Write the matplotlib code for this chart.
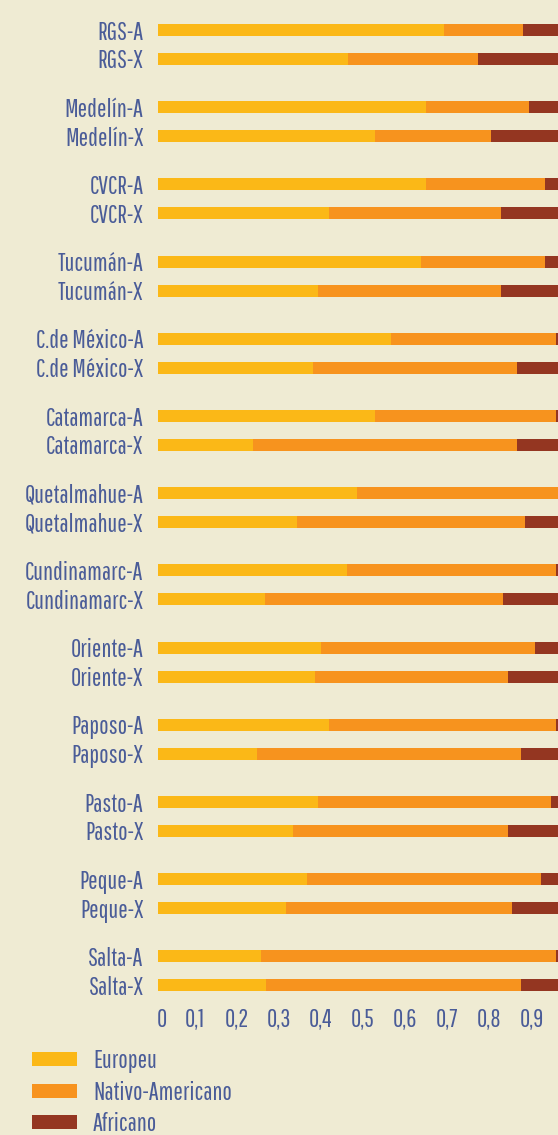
import matplotlib
matplotlib.use('Agg')
import matplotlib.pyplot as plt
import matplotlib.transforms as mtransforms
import numpy as np

# populations, each with an A and X row
populations = ['RGS', 'Medelín', 'CVCR', 'Tucumán', 'C.de México', 'Catamarca',
               'Quetalmahue', 'Cundinamarc', 'Oriente', 'Paposo', 'Pasto', 'Peque', 'Salta']

europeu_A = [0.681, 0.638, 0.638, 0.626, 0.555, 0.516, 0.474, 0.451, 0.389, 0.408, 0.381, 0.354, 0.245]
nativo_A = [0.187, 0.245, 0.282, 0.294, 0.391, 0.430, 0.496, 0.495, 0.508, 0.538, 0.553, 0.557, 0.701]
africano_A = [0.132, 0.117, 0.080, 0.080, 0.054, 0.054, 0.030, 0.054, 0.103, 0.054, 0.066, 0.089, 0.054]

europeu_X = [0.452, 0.516, 0.408, 0.381, 0.370, 0.228, 0.331, 0.255, 0.373, 0.237, 0.321, 0.306, 0.257]
nativo_X = [0.310, 0.275, 0.409, 0.436, 0.485, 0.627, 0.542, 0.566, 0.460, 0.627, 0.512, 0.537, 0.607]
africano_X = [0.238, 0.209, 0.183, 0.183, 0.145, 0.145, 0.127, 0.179, 0.167, 0.136, 0.167, 0.157, 0.136]

series_names = ['Europeu', 'Nativo-Americano', 'Africano']
colors = ['#fbb817', '#f7931e', '#943621']
bg = '#efebd3'
txt = '#4a5c98'
font = ['Pathway Gothic One', 'DejaVu Sans']
fs = 18

W, H = 558, 1135
fig = plt.figure(figsize=(W / 100, H / 100), dpi=100, facecolor=bg)
# 0 at the bar start, 1.0 lies past the right edge of the picture (cropped)
ax = fig.add_axes([157.5 / W, 1 - 1000 / H, 421 / W, 1000 / H])
ax.set_facecolor(bg)

labels, y, eur, nat, afr = [], [], [], [], []
for g, name in enumerate(populations):
    for k, tag in enumerate(['A', 'X']):
        labels.append(f'{name}-{tag}')
        y.append(30 + 77.2 * g + 29 * k)
    eur += [europeu_A[g], europeu_X[g]]
    nat += [nativo_A[g], nativo_X[g]]
    afr += [africano_A[g], africano_X[g]]
y = np.array(y)
eur, nat, afr = np.array(eur), np.array(nat), np.array(afr)

bh = 12
ax.barh(y, eur, height=bh, color=colors[0], label=series_names[0])
ax.barh(y, nat, left=eur, height=bh, color=colors[1], label=series_names[1])
ax.barh(y, afr, left=eur + nat, height=bh, color=colors[2], label=series_names[2])

ax.set_ylim(1000, 0)
ax.set_xlim(0, 1)
ax.set_yticks(y)
ax.set_yticklabels(labels, family=font, fontsize=fs, color=txt)
ax.set_xticks(np.arange(0, 1.0, 0.1))
ax.set_xticklabels(['0'] + [f'0,{i}' for i in range(1, 10)], family=font, fontsize=fs, color=txt)
ax.tick_params(axis='both', length=0)
ax.tick_params(axis='y', pad=10)
ax.tick_params(axis='x', pad=6)
shift = mtransforms.ScaledTranslation(-5 / 100, 0, fig.dpi_scale_trans)
for lab in ax.get_xticklabels()[1:]:
    lab.set_transform(lab.get_transform() + shift)
ax.get_xticklabels()[0].set_transform(ax.get_xticklabels()[0].get_transform()
                                      + mtransforms.ScaledTranslation(4 / 100, 0, fig.dpi_scale_trans))
for s in ax.spines.values():
    s.set_visible(False)

leg = fig.legend(loc='upper left', bbox_to_anchor=(32 / W, 1 - 1049 / H), frameon=False,
                 borderaxespad=0, borderpad=0,
                 prop={'family': font, 'size': fs}, labelcolor=txt,
                 handlelength=1.8, handleheight=0.48, handletextpad=0.64, labelspacing=0.3)

fig.savefig('out.png', dpi=100, facecolor=bg)
